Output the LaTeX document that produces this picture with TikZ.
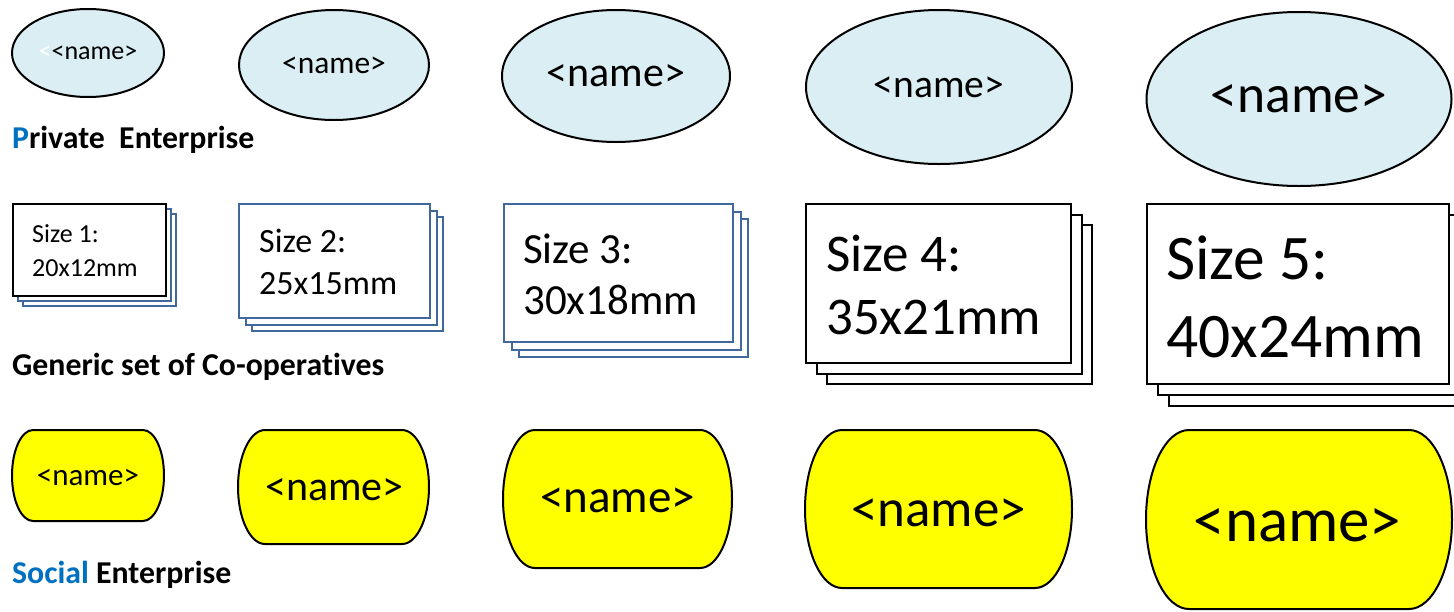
\documentclass[tikz,border=0pt]{standalone}
\usepackage{fontspec}
\setmainfont{Carlito}[Ligatures=NoCommon]
\usetikzlibrary{shapes.geometric}
\definecolor{ellfill}{HTML}{DAEEF3}
\definecolor{txtblue}{HTML}{0070C0}
\definecolor{stackblue}{HTML}{41689C}
\definecolor{seyellow}{HTML}{FFFF00}
\newcommand\yblob[5]{% #1 x1, #2 x2, #3 top, #4 bottom, #5 corner
  \draw[seshape] ({#1+#5},#3) -- ({#2-#5},#3)
    .. controls ({#2-0.4477*#5},#3) and (#2,{#3+0.2239*(#4-#3)}) .. (#2,{(#3+#4)/2})
    .. controls (#2,{#4-0.2239*(#4-#3)}) and ({#2-0.4477*#5},#4) .. ({#2-#5},#4)
    -- ({#1+#5},#4)
    .. controls ({#1+0.4477*#5},#4) and (#1,{#4-0.2239*(#4-#3)}) .. (#1,{(#3+#4)/2})
    .. controls (#1,{#3+0.2239*(#4-#3)}) and ({#1+0.4477*#5},#3) .. cycle;
}
\begin{document}
\begin{tikzpicture}[x=1pt,y=-1pt,
  pe/.style={ellipse, draw=black, line width=2pt, fill=ellfill, inner sep=0pt},
  seshape/.style={draw=black, line width=2pt, fill=seyellow},
  card/.style={rectangle, fill=white, line width=2pt, inner sep=0pt, anchor=north west},
  cardtext/.style={anchor=west, align=left, inner sep=0pt},
  label/.style={anchor=base west, inner sep=0pt, font=\fontsize{31.8}{36}\selectfont\bfseries}]
\useasboundingbox (0,0) rectangle (1454,611);

% ---------- Private Enterprise ellipses ----------
\node[pe, minimum width=152pt, minimum height=88pt, font=\fontsize{26}{30}\selectfont] (e1) at (88,53) {{\color{white}<}<name>};
\node[pe, minimum width=190pt, minimum height=110pt, font=\fontsize{31.5}{36}\selectfont] (e2) at (334,65) {<name>};
\node[pe, minimum width=228pt, minimum height=132pt, font=\fontsize{42}{48}\selectfont] (e3) at (616,76) {<name>};
\node[pe, minimum width=266pt, minimum height=154pt, font=\fontsize{39.5}{46}\selectfont] (e4) at (939,87) {<name>};
\node[pe, minimum width=305pt, minimum height=174pt, font=\fontsize{53.5}{60}\selectfont] (e5) at (1299,99) {<name>};
\node[label] (lpe) at (12,148) {{\color{txtblue}P}rivate\ \ Enterprise};

% ---------- Co-operative stacks ----------
% size 1
\node[card, draw=stackblue, minimum width=153pt, minimum height=92pt] (r1c) at (22,213) {};
\node[card, draw=stackblue, minimum width=153pt, minimum height=92pt] (r1b) at (17,208) {};
\node[card, draw=black, minimum width=153pt, minimum height=92pt] (r1) at (12,203) {};
\node[cardtext, font=\fontsize{26}{34}\selectfont] (t1) at ([xshift=20pt,yshift=-1pt]r1.west) {Size 1:\\20x12mm};
% size 2
\node[card, draw=stackblue, minimum width=191pt, minimum height=114pt] (r2c) at (251,216) {};
\node[card, draw=stackblue, minimum width=191pt, minimum height=114pt] (r2b) at (244.5,209.5) {};
\node[card, draw=stackblue, minimum width=191pt, minimum height=114pt] (r2) at (238,203) {};
\node[cardtext, font=\fontsize{34}{42}\selectfont] (t2) at ([xshift=21pt,yshift=-1pt]r2.west) {Size 2:\\25x15mm};
% size 3
\node[card, draw=stackblue, minimum width=229pt, minimum height=138pt] (r3c) at (518,218) {};
\node[card, draw=stackblue, minimum width=229pt, minimum height=138pt] (r3b) at (510.5,210.5) {};
\node[card, draw=stackblue, minimum width=229pt, minimum height=138pt] (r3) at (503,203) {};
\node[cardtext, font=\fontsize{43}{51}\selectfont] (t3) at ([xshift=20pt,yshift=-1pt]r3.west) {Size 3:\\30x18mm};
% size 4
\node[card, draw=black, minimum width=265pt, minimum height=159pt] (r4c) at (826,224) {};
\node[card, draw=black, minimum width=265pt, minimum height=159pt] (r4b) at (815.5,213.5) {};
\node[card, draw=black, minimum width=265pt, minimum height=159pt] (r4) at (805,203) {};
\node[cardtext, font=\fontsize{53}{63}\selectfont] (t4) at ([xshift=21pt,yshift=-1pt]r4.west) {Size 4:\\35x21mm};
% size 5
\node[card, draw=black, minimum width=302pt, minimum height=180pt] (r5c) at (1168,225) {};
\node[card, draw=black, minimum width=302pt, minimum height=180pt] (r5b) at (1157,214) {};
\node[card, draw=black, minimum width=302pt, minimum height=180pt] (r5) at (1146,203) {};
\node[cardtext, font=\fontsize{63.5}{78}\selectfont] (t5) at ([xshift=20pt,yshift=-3pt]r5.west) {Size 5:\\40x24mm};
\node[label] (lco) at (12,375) {Generic set of Co-operatives};

% ---------- Social Enterprise shapes ----------
\yblob{12}{164}{430}{521}{21}
\node[inner sep=0pt, font=\fontsize{31}{36}\selectfont] (s1) at (88,477) {<name>};
\yblob{238}{429}{430}{544}{27}
\node[inner sep=0pt, font=\fontsize{42}{48}\selectfont] (s2) at (334.5,490) {<name>};
\yblob{503}{732}{430}{568}{32}
\node[inner sep=0pt, font=\fontsize{47}{54}\selectfont] (s3) at (617.5,500) {<name>};
\yblob{805}{1072}{430}{588}{37}
\node[inner sep=0pt, font=\fontsize{53}{60}\selectfont] (s4) at (938.5,513) {<name>};
\yblob{1146}{1452}{430}{609}{43}
\node[inner sep=0pt, font=\fontsize{63}{70}\selectfont] (s5) at (1297.5,525) {<name>};
\node[label] (lse) at (12,583) {{\color{txtblue}Social} Enterprise};
\end{tikzpicture}
\end{document}
